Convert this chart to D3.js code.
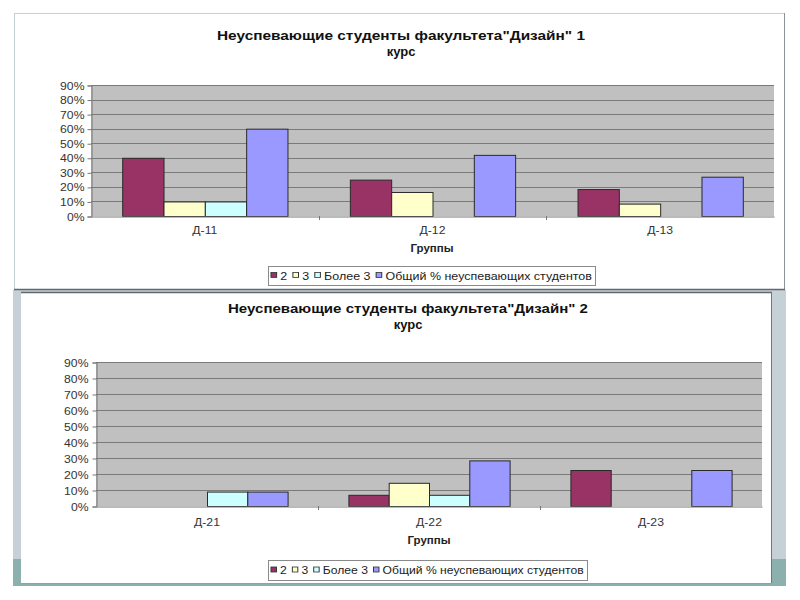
<!DOCTYPE html>
<html><head><meta charset="utf-8">
<script src="https://cdn.jsdelivr.net/npm/d3@7/dist/d3.min.js"></script>
<style>body{margin:0;background:#fff}svg{display:block}text{font-family:"Liberation Sans",Arial,sans-serif}</style>
</head><body>
<svg id="c" width="800" height="600"></svg>
<script>
// ---- data ----
const seriesNames = ["2", "3", "Более 3", "Общий % неуспевающих студентов"];
const seriesColors = ["#993366", "#FFFFCC", "#CCFFFF", "#9999FF"];
const yTicks = [0, 10, 20, 30, 40, 50, 60, 70, 80, 90];
const xTitle = "Группы";

const title1 = ["Неуспевающие студенты факультета\"Дизайн\" 1", "курс"];
const groups1 = ["Д-11", "Д-12", "Д-13"];
const s2_c1 = [40, 25, 18.5];
const s3_c1 = [10, 16.5, 8.5];
const sMore3_c1 = [10, 0, 0];
const sTotal_c1 = [60, 42, 27];

const title2 = ["Неуспевающие студенты факультета\"Дизайн\" 2", "курс"];
const groups2 = ["Д-21", "Д-22", "Д-23"];
const s2_c2 = [0, 7, 22.5];
const s3_c2 = [0, 14.5, 0];
const sMore3_c2 = [9, 7, 0];
const sTotal_c2 = [9, 28.5, 22.5];

const svg = d3.select("#c");

// ---- slide background frames ----
svg.append("rect").attr("x", 13).attr("y", 290).attr("width", 773).attr("height", 296).attr("fill", "#c6d1d7");
svg.append("rect").attr("x", 13).attr("y", 559).attr("width", 773).attr("height", 27).attr("fill", "#8bb0ae");

function drawChart(cfg) {
  const g = svg.append("g");
  // chart box
  g.append("rect").attr("x", cfg.box[0]).attr("y", cfg.box[1]).attr("width", cfg.box[2]).attr("height", cfg.box[3])
    .attr("fill", "#fff").attr("stroke", "none");
  cfg.borders.forEach(b => g.append("line").attr("x1", b[0]).attr("y1", b[1]).attr("x2", b[2]).attr("y2", b[3])
    .attr("stroke", b[4]).attr("stroke-width", b[5] || 1));

  const x = d3.scaleBand().domain(cfg.groups).range([cfg.px0, cfg.px1]).padding(0);
  const cw = x.bandwidth();
  const xs = d3.scaleBand().domain(seriesNames).range([cw * 0.137, cw * 0.863]).padding(0);
  const y = d3.scaleLinear().domain([0, 90]).range([cfg.py1, cfg.py0]);

  // plot area
  g.append("rect").attr("x", cfg.px0).attr("y", cfg.py0).attr("width", cfg.px1 - cfg.px0).attr("height", cfg.py1 - cfg.py0)
    .attr("fill", "#c0c0c0");
  // gridlines
  g.append("g").selectAll("line").data(yTicks.filter(t => t > 0)).join("line")
    .attr("x1", cfg.px0).attr("x2", cfg.px1)
    .attr("y1", d => Math.round(y(d)) + 0.5).attr("y2", d => Math.round(y(d)) + 0.5)
    .attr("stroke", "#7a7a7a").attr("stroke-width", 1);

  // bars
  const data = [];
  cfg.values.forEach((arr, si) => arr.forEach((v, gi) => { if (v > 0) data.push({ s: si, g: cfg.groups[gi], v }); }));
  g.append("g").selectAll("rect").data(data).join("rect")
    .attr("x", d => x(d.g) + xs(seriesNames[d.s]) + 0.5)
    .attr("y", d => y(d.v) + 0.5)
    .attr("width", xs.bandwidth())
    .attr("height", d => y(0) - y(d.v))
    .attr("fill", d => seriesColors[d.s])
    .attr("stroke", "#2a2a2a").attr("stroke-width", 1);

  // y axis
  const ya = d3.axisLeft(y).tickValues(yTicks).tickSize(4).tickFormat(d => d + "%");
  const yg = g.append("g").attr("transform", `translate(${cfg.px0 + 0.5},0.5)`).call(ya);
  yg.select(".domain").attr("stroke", "#777");
  yg.selectAll(".tick line").attr("stroke", "#777");
  yg.selectAll(".tick text").attr("x", 0).attr("dy", "0.35em")
    .attr("font-size", 10).attr("fill", "#333").attr("font-family", "Liberation Sans, Arial")
    .attr("text-anchor", "end")
    .attr("transform", `translate(${cfg.tickTextEnd - cfg.px0},0) scale(1.22,1)`);

  // x axis
  const xa = d3.axisBottom(x).tickSize(0).tickFormat(d => d);
  const xg = g.append("g").attr("transform", `translate(0,${cfg.py1 + 0.5})`).call(xa);
  xg.select(".domain").attr("stroke", "#777");
  xg.selectAll(".tick text").attr("y", 0).attr("dy", 0)
    .attr("font-size", 10).attr("fill", "#333").attr("font-family", "Liberation Sans, Arial")
    .attr("transform", `translate(0,${cfg.xLabelY - cfg.py1}) scale(1.22,1)`);
  // category boundary ticks
  g.append("g").selectAll("line").data(cfg.groups.slice(1)).join("line")
    .attr("x1", d => Math.round(x(d)) + 0.5).attr("x2", d => Math.round(x(d)) + 0.5)
    .attr("y1", cfg.py1).attr("y2", cfg.py1 + 4).attr("stroke", "#777");

  // axis title
  g.append("text").attr("transform", `translate(${cfg.xTitlePos[0]},${cfg.xTitlePos[1]}) scale(1.15,1)`)
    .attr("text-anchor", "middle").attr("font-size", 10).attr("font-weight", "bold").attr("fill", "#222")
    .text(xTitle);

  // title
  cfg.title.forEach((t, i) => {
    const tt = g.append("text").attr("x", cfg.titleX).attr("y", cfg.titleY[i])
      .attr("text-anchor", "middle").attr("font-size", 13).attr("font-weight", "bold").attr("fill", "#111").text(t);
    if (cfg.titleW[i]) tt.attr("textLength", cfg.titleW[i]).attr("lengthAdjust", "spacingAndGlyphs");
  });

  // legend
  const lb = cfg.legend; // [x, y, w, h]
  g.append("rect").attr("x", lb[0] + 0.5).attr("y", lb[1] + 0.5).attr("width", lb[2]).attr("height", lb[3])
    .attr("fill", "#fff").attr("stroke", "#8a8a8a");
  const lg = g.append("g");
  let cx = 0;
  const items = [];
  seriesNames.forEach((n, i) => {
    const it = lg.append("g");
    it.append("rect").attr("x", cx).attr("y", -3.5).attr("width", 4.5).attr("height", 5)
      .attr("fill", seriesColors[i]).attr("stroke", "#333").attr("stroke-width", 0.8);
    const t = it.append("text").attr("x", cx + 7.5).attr("y", 0).attr("dy", "0.35em")
      .attr("font-size", 10).attr("fill", "#222").text(n);
    cx += 7.5 + t.node().getComputedTextLength() + 4.5;
    items.push(it);
  });
  const natural = cx - 4.5;
  const inner = lb[2] - 6;
  const k = inner / natural;
  lg.attr("transform", `translate(${lb[0] + 3},${lb[1] + lb[3] / 2 + 0.5}) scale(${k},1)`);
}

drawChart({
  box: [14, 13, 771, 276],
  borders: [
    [14, 13.5, 785, 13.5, "#c3d0d5"],
    [14.5, 13, 14.5, 289, "#c3d0d5"],
    [784.5, 13, 784.5, 290, "#8a9499"],
    [14, 289.5, 785, 289.5, "#5f686c", 1.5]
  ],
  groups: groups1,
  values: [s2_c1, s3_c1, sMore3_c1, sTotal_c1],
  px0: 91, px1: 774, py0: 85, py1: 216,
  tickTextEnd: 84,
  xLabelY: 233,
  xTitlePos: [432, 252],
  title: title1, titleX: 401, titleY: [40, 56], titleW: [368, 0],
  legend: [268, 266, 327, 19]
});

drawChart({
  box: [21, 292, 750, 291],
  borders: [
    [21, 292.5, 772, 292.5, "#5f686c", 1.5],
    [771.5, 292, 771.5, 584, "#6e777b"],
    [21, 583.5, 772, 583.5, "#8aa5a4"]
  ],
  groups: groups2,
  values: [s2_c2, s3_c2, sMore3_c2, sTotal_c2],
  px0: 96, px1: 762, py0: 362, py1: 506,
  tickTextEnd: 88,
  xLabelY: 525,
  xTitlePos: [429, 544],
  title: title2, titleX: 408, titleY: [313, 329], titleW: [360, 0],
  legend: [268, 560, 319, 20]
});
</script>
</body></html>
